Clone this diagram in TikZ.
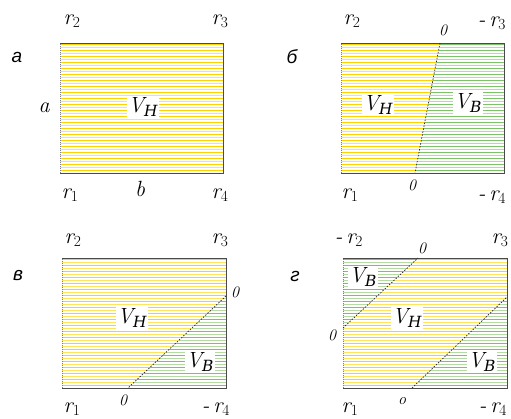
\documentclass[tikz,border=0pt]{standalone}
\usepackage{fontspec}
\newfontfamily\cyrserif{DejaVu Serif}
\newfontfamily\cyrsans{Liberation Sans}
\definecolor{gold}{HTML}{FFD200}
\definecolor{palegold}{HTML}{FFE45C}
\definecolor{leaf}{HTML}{7CC266}
\definecolor{paleleaf}{HTML}{B4DCA2}
\definecolor{frame}{HTML}{4A4A4A}
\tikzset{
  tag/.style={font=\cyrsans\itshape\fontsize{19}{21}\selectfont,inner sep=0pt},
  lab/.style={font=\rmfamily\itshape\fontsize{22}{24}\selectfont,inner sep=1pt},
  zero/.style={font=\rmfamily\itshape\fontsize{16}{18}\selectfont,inner sep=1pt},
  vol/.style={font=\rmfamily\itshape\fontsize{22}{24}\selectfont,fill=white,inner sep=1.5pt},
  edge/.style={draw=frame,line width=1pt},
  side/.style={draw=frame!70,line width=1pt,dash pattern=on 1pt off 1pt},
  cut/.style={draw=black!85,line width=.7pt,dash pattern=on 1.5pt off 1.5pt}
}
% horizontal hatching inside a clipped region: #1 region, #2 top, #3/#4 colours
\newcommand{\hatchin}[4]{%
  \begin{scope}
    \clip #1;
    \foreach \k in {0,...,43}{
      \pgfmathsetmacro{\yy}{#2+1.5+3*\k}
      \ifodd\k \def\hc{#4}\else\def\hc{#3}\fi
      \draw[\hc,line width=1.8pt] (0,\yy) -- (511,\yy);
    }
  \end{scope}}
\newcommand{\rr}[1]{r\textsubscript{\upshape #1}}
\newcommand{\VH}{V\textsubscript{\cyrserif\itshape Н}}
\newcommand{\VB}{V\textsubscript{\cyrserif\itshape В}}

\begin{document}
\begin{tikzpicture}[x=1pt,y=-1pt]
  \useasboundingbox (0,0) rectangle (511,418);

  % panel a
  \coordinate (a1) at (60,173); \coordinate (a2) at (60,43);
  \coordinate (a3) at (223,43); \coordinate (a4) at (223,173);
  \hatchin{(a1) rectangle (a3)}{43}{gold}{palegold}
  \draw[edge] (a2) -- (a3) -- (a4) -- (a1);
  \draw[side] (a1) -- (a2);
  \node[tag] (ta) at (17,57) {а};
  \node[lab] (ar2) at (72,21) {\rr{2}};
  \node[lab] (ar3) at (220,21) {\rr{3}};
  \node[lab] (ar1) at (70,195) {\rr{1}};
  \node[lab] (ar4) at (220,195) {\rr{4}};
  \node[lab] (aa) at (44,108) {a};
  \node[lab] (ab) at (140,189) {b};
  \node[vol] (avh) at (143,107) {\VH};

  % panel b
  \coordinate (b1) at (341,173); \coordinate (b2) at (341,43);
  \coordinate (b3) at (504,43); \coordinate (b4) at (504,173);
  \coordinate (bt) at (440,43); \coordinate (bb) at (415,173);
  \hatchin{(b1) -- (b2) -- (bt) -- (bb) -- cycle}{43}{gold}{palegold}
  \hatchin{(bb) -- (bt) -- (b3) -- (b4) -- cycle}{43}{leaf}{paleleaf}
  \draw[edge] (b2) -- (b3) -- (b4) -- (b1);
  \draw[side] (b1) -- (b2);
  \draw[cut] (bt) -- (bb);
  \node[tag] (tb) at (292,57) {б};
  \node[lab] (br2) at (352,21) {\rr{2}};
  \node[zero] (bz1) at (443,30) {0};
  \node[lab] (br3) at (492,23) {-\,\rr{3}};
  \node[lab] (br1) at (350,195) {\rr{1}};
  \node[zero] (bz2) at (412,185) {0};
  \node[lab] (br4) at (492,197) {-\,\rr{4}};
  \node[vol] (bvh) at (378,105) {\VH};
  \node[vol] (bvb) at (468,103) {\VB};

  % panel c
  \coordinate (c1) at (62,388); \coordinate (c2) at (62,258);
  \coordinate (c3) at (226,258); \coordinate (c4) at (226,388);
  \coordinate (cr) at (226,296); \coordinate (cb) at (128,388);
  \hatchin{(c1) -- (c2) -- (c3) -- (cr) -- (cb) -- cycle}{258}{gold}{palegold}
  \hatchin{(cb) -- (cr) -- (c4) -- cycle}{258}{leaf}{paleleaf}
  \draw[edge] (c2) -- (c3) -- (c4) -- (c1);
  \draw[side] (c1) -- (c2);
  \draw[cut] (cr) -- (cb);
  \node[tag] (tc) at (18,276) {в};
  \node[lab] (cr2) at (73,240) {\rr{2}};
  \node[lab] (cr3) at (220,240) {\rr{3}};
  \node[zero] (cz1) at (235,292) {0};
  \node[lab] (cr1) at (72,409) {\rr{1}};
  \node[zero] (cz2) at (123,400) {0};
  \node[lab] (cr4) at (216,409) {-\,\rr{4}};
  \node[vol] (cvh) at (132,318) {\VH};
  \node[vol] (cvb) at (200,362) {\VB};

  % panel d
  \coordinate (d1) at (343,388); \coordinate (d2) at (343,258);
  \coordinate (d3) at (507,258); \coordinate (d4) at (507,388);
  \coordinate (dl) at (343,328); \coordinate (dt) at (418,258);
  \coordinate (db) at (412,388); \coordinate (dr) at (507,297);
  \hatchin{(dl) -- (d2) -- (dt) -- cycle}{258}{leaf}{paleleaf}
  \hatchin{(d1) -- (dl) -- (dt) -- (d3) -- (dr) -- (db) -- cycle}{258}{gold}{palegold}
  \hatchin{(db) -- (dr) -- (d4) -- cycle}{258}{leaf}{paleleaf}
  \draw[edge] (d2) -- (d3) -- (d4) -- (d1);
  \draw[side] (d1) -- (d2);
  \draw[cut] (dl) -- (dt);
  \draw[cut] (db) -- (dr);
  \node[tag] (td) at (295,276) {г};
  \node[lab] (dr2) at (349,240) {-\,\rr{2}};
  \node[zero] (dz1) at (422,248) {0};
  \node[lab] (dr3) at (500,240) {\rr{3}};
  \node[zero] (dz2) at (332,335) {0};
  \node[lab] (dr1) at (350,409) {\rr{1}};
  \node[zero] (dz3) at (402,401) {o};
  \node[lab] (dr4) at (493,409) {-\,\rr{4}};
  \node[vol] (dvb1) at (363,277) {\VB};
  \node[vol] (dvh) at (407,318) {\VH};
  \node[vol] (dvb2) at (482,362) {\VB};
\end{tikzpicture}
\end{document}
